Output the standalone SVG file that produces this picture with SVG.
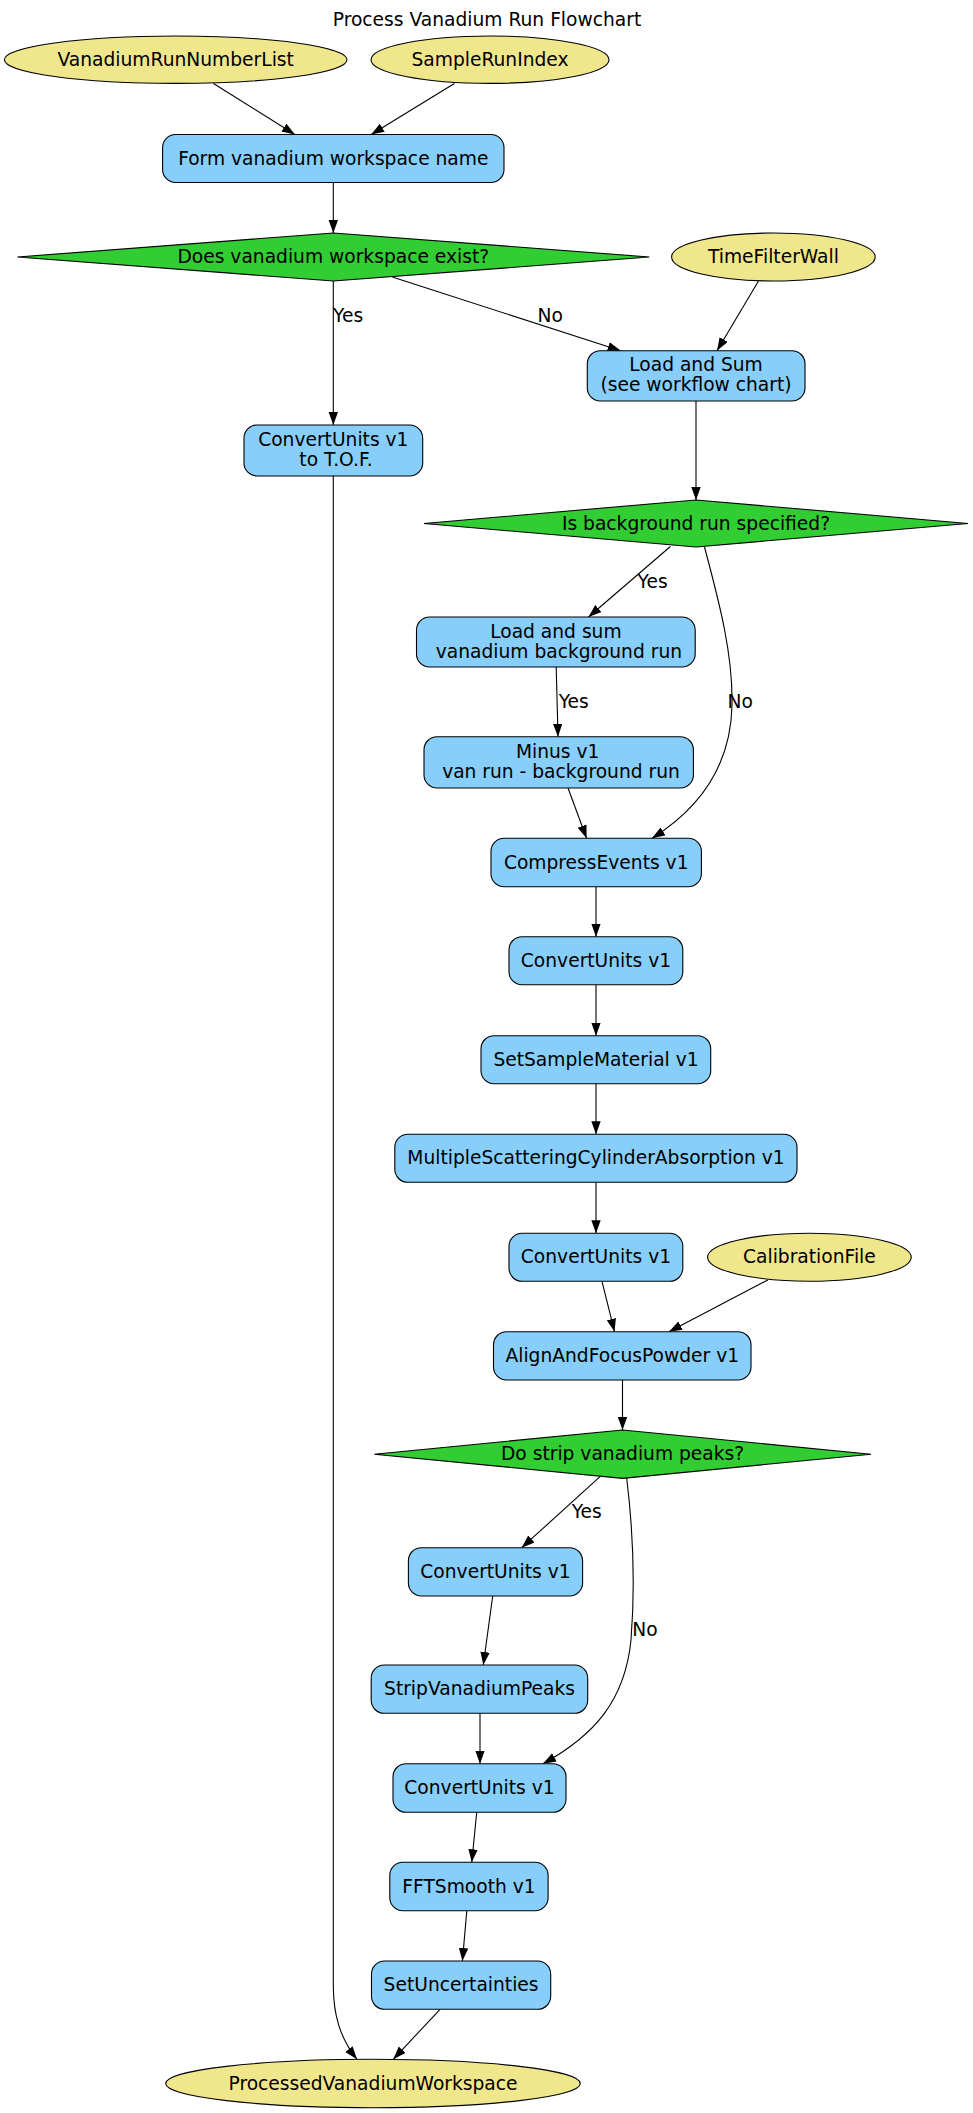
<svg xmlns="http://www.w3.org/2000/svg" width="973" height="2113" viewBox="0 0 973 2113">
<style>
text{font-family:"DejaVu Sans","Liberation Sans",sans-serif;font-size:18.67px;fill:#000}
.c{text-anchor:middle}
.box{fill:#87CEFA;stroke:#000;stroke-width:1.1}
.dia{fill:#32CD32;stroke:#000;stroke-width:1.1}
.ell{fill:#F0E68C;stroke:#000;stroke-width:1.1}
.e{fill:none;stroke:#000;stroke-width:1.1;marker-end:url(#ah)}
</style>
<defs>
<marker id="ah" markerWidth="14" markerHeight="10" refX="13" refY="4.7" orient="auto" markerUnits="userSpaceOnUse"><path d="M0,0 L13,4.7 L0,9.4 z" fill="#000"/></marker>
</defs>
<rect width="973" height="2113" fill="#fff"/>
<text class="c" x="487" y="26">Process Vanadium Run Flowchart</text>

<g id="connectors">
<path class="e" d="M213.5,83.5 L294.9,134.5"/>
<path class="e" d="M454.4,83.5 L371.2,134.5"/>
<path class="e" d="M333.3,182.5 L333.3,233"/>
<path class="e" d="M333.3,281 L333.3,425"/>
<text x="333" y="321.5">Yes</text>
<path class="e" d="M392.3,277 L620.7,350.7"/>
<text x="537.6" y="321.5">No</text>
<path class="e" d="M758.5,281 L717,350.7"/>
<path class="e" d="M696,401 L696,500"/>
<path class="e" d="M670.4,546.5 L588.5,617"/>
<text x="637.5" y="588">Yes</text>
<path class="e" d="M704.5,547 C720,605 733,655 732,705 C731,760 705,805 652,838.3"/>
<text x="727.5" y="708">No</text>
<path class="e" d="M556.2,667 L558,736.7"/>
<text x="558.7" y="708">Yes</text>
<path class="e" d="M568,788 L586.6,838.3"/>
<path class="e" d="M596,886.7 L596,936.7"/>
<path class="e" d="M596,984.7 L596,1035.7"/>
<path class="e" d="M596,1083.7 L596,1134.3"/>
<path class="e" d="M596,1182.3 L596,1233.3"/>
<path class="e" d="M602,1281.3 L614.5,1331.7"/>
<path class="e" d="M767.8,1280 L669,1331.7"/>
<path class="e" d="M622.5,1380 L622.5,1430"/>
<path class="e" d="M600,1476.7 L521.7,1547.7"/>
<text x="571.7" y="1518">Yes</text>
<path class="e" d="M626.7,1478 C633,1530 635,1590 631,1640 C625,1700 595,1735 543,1763.7"/>
<text x="632.3" y="1635.7">No</text>
<path class="e" d="M492.7,1596 L483.3,1665"/>
<path class="e" d="M480,1713.3 L480,1763.7"/>
<path class="e" d="M476.7,1812.3 L471.8,1862.3"/>
<path class="e" d="M466.8,1910.7 L462.4,1961"/>
<path class="e" d="M440,2009.3 L393.3,2059.3"/>
<path class="e" d="M333.3,476 L333.3,1985 C333.3,2015 340,2038 357,2059.3"/>
</g>

<g id="VanadiumRunNumberList"><ellipse class="ell" cx="175.7" cy="59.7" rx="171.3" ry="23.7"/><text class="c" x="175.7" y="65.7">VanadiumRunNumberList</text></g>
<g id="SampleRunIndex"><ellipse class="ell" cx="490" cy="59.7" rx="119" ry="23.7"/><text class="c" x="490" y="65.7">SampleRunIndex</text></g>
<g id="FormName"><rect class="box" x="162.6" y="134.5" width="341.4" height="48" rx="13"/><text class="c" x="333.3" y="164.5">Form vanadium workspace name</text></g>
<g id="DoesExist"><polygon class="dia" points="17.4,257 333.3,233 649.3,257 333.3,281"/><text class="c" x="333.3" y="263">Does vanadium workspace exist?</text></g>
<g id="TimeFilterWall"><ellipse class="ell" cx="773.4" cy="257" rx="101.8" ry="24"/><text class="c" x="773.4" y="263">TimeFilterWall</text></g>
<g id="LoadAndSum"><rect class="box" x="587.3" y="350.7" width="217.7" height="50.3" rx="13"/><text class="c" x="696" y="371.3">Load and Sum</text><text class="c" x="696" y="391.3">(see workflow chart)</text></g>
<g id="ConvertUnitsTOF"><rect class="box" x="244" y="425" width="178.7" height="51" rx="13"/><text class="c" x="333.3" y="446">ConvertUnits v1</text><text class="c" x="336" y="466">to T.O.F.</text></g>
<g id="IsBackground"><polygon class="dia" points="424,523.5 696,500 968,523.5 696,547"/><text class="c" x="696" y="529.5">Is background run specified?</text></g>
<g id="LoadBackground"><rect class="box" x="416.5" y="617" width="278.7" height="50" rx="13"/><text class="c" x="555.9" y="637.5">Load and sum</text><text class="c" x="558.9" y="657.5">vanadium background run</text></g>
<g id="Minus"><rect class="box" x="424" y="736.7" width="269.4" height="51.3" rx="13"/><text class="c" x="557.7" y="757.5">Minus v1</text><text class="c" x="561" y="777.5">van run - background run</text></g>
<g id="CompressEvents"><rect class="box" x="491" y="838.3" width="210.4" height="48.4" rx="13"/><text class="c" x="596.2" y="868.5">CompressEvents v1</text></g>
<g id="ConvertUnits2"><rect class="box" x="509" y="936.7" width="173.8" height="48" rx="13"/><text class="c" x="596" y="966.7">ConvertUnits v1</text></g>
<g id="SetSampleMaterial"><rect class="box" x="481" y="1035.7" width="229.7" height="48" rx="13"/><text class="c" x="596" y="1065.7">SetSampleMaterial v1</text></g>
<g id="MSCA"><rect class="box" x="394.8" y="1134.3" width="402.2" height="48" rx="13"/><text class="c" x="596" y="1164.3">MultipleScatteringCylinderAbsorption v1</text></g>
<g id="ConvertUnits3"><rect class="box" x="509" y="1233.3" width="173.8" height="48" rx="13"/><text class="c" x="596" y="1263.3">ConvertUnits v1</text></g>
<g id="CalibrationFile"><ellipse class="ell" cx="809.4" cy="1257.2" rx="101.8" ry="24"/><text class="c" x="809.4" y="1263.2">CalibrationFile</text></g>
<g id="AlignAndFocusPowder"><rect class="box" x="493.5" y="1331.7" width="257.5" height="48.3" rx="13"/><text class="c" x="622.3" y="1361.8">AlignAndFocusPowder v1</text></g>
<g id="DoStrip"><polygon class="dia" points="374.3,1454.2 622.6,1430 871,1454.2 622.6,1478.4"/><text class="c" x="622.6" y="1460.2">Do strip vanadium peaks?</text></g>
<g id="ConvertUnits4"><rect class="box" x="408.4" y="1547.7" width="174.2" height="48.3" rx="13"/><text class="c" x="495.5" y="1577.8">ConvertUnits v1</text></g>
<g id="StripVanadiumPeaks"><rect class="box" x="371.2" y="1665" width="216.5" height="48.3" rx="13"/><text class="c" x="479.5" y="1695.1">StripVanadiumPeaks</text></g>
<g id="ConvertUnits5"><rect class="box" x="393" y="1763.7" width="173" height="48.6" rx="13"/><text class="c" x="479.5" y="1794">ConvertUnits v1</text></g>
<g id="FFTSmooth"><rect class="box" x="389.8" y="1862.3" width="158.3" height="48.4" rx="13"/><text class="c" x="469" y="1892.5">FFTSmooth v1</text></g>
<g id="SetUncertainties"><rect class="box" x="371.5" y="1961" width="179.2" height="48.3" rx="13"/><text class="c" x="461.1" y="1991.1">SetUncertainties</text></g>
<g id="ProcessedVanadiumWorkspace"><ellipse class="ell" cx="373" cy="2083.5" rx="207.3" ry="24.2"/><text class="c" x="373" y="2089.5">ProcessedVanadiumWorkspace</text></g>
</svg>
